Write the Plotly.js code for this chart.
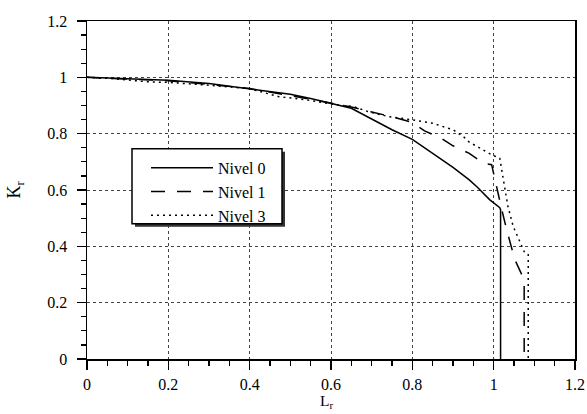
<!DOCTYPE html>
<html>
<head>
<meta charset="utf-8">
<script src="https://cdn.plot.ly/plotly-3.0.1.min.js"></script>
<style>html,body{margin:0;padding:0;background:#fff;}#chart{width:587px;height:414px;}</style>
</head>
<body>
<div id="chart"></div>
<script>
// Series names
const seriesNames = ["Nivel 0", "Nivel 1", "Nivel 3"];

// Nivel 0 (solid)
const lr0 = [0, 0.05, 0.1, 0.15, 0.2, 0.3, 0.4, 0.5, 0.55, 0.6, 0.65, 0.7, 0.75, 0.8, 0.85, 0.876, 0.9, 0.94, 0.96, 0.99, 1.015, 1.017, 1.017];
const kr0 = [1, 0.998, 0.995, 0.992, 0.99, 0.978, 0.96, 0.94, 0.925, 0.908, 0.89, 0.852, 0.814, 0.78, 0.73, 0.707, 0.68, 0.636, 0.61, 0.566, 0.537, 0.53, 0];

// Nivel 1 (dashed)
const lr1 = [0, 0.1, 0.2, 0.3, 0.4, 0.5, 0.6, 0.65, 0.7, 0.75, 0.8, 0.83, 0.87, 0.9, 0.94, 0.975, 0.995, 1.007, 1.02, 1.032, 1.044, 1.052, 1.069, 1.075, 1.075];
const kr1 = [1, 0.995, 0.988, 0.975, 0.96, 0.935, 0.91, 0.895, 0.877, 0.86, 0.84, 0.81, 0.785, 0.757, 0.73, 0.695, 0.69, 0.61, 0.53, 0.459, 0.40, 0.353, 0.30, 0.27, 0];

// Nivel 3 (dotted)
const lr3 = [0, 0.05, 0.15, 0.2, 0.3, 0.4, 0.47, 0.55, 0.6, 0.655, 0.69, 0.74, 0.8, 0.85, 0.9, 0.925, 0.94, 0.995, 1.015, 1.023, 1.035, 1.048, 1.065, 1.077, 1.085, 1.085];
const kr3 = [1, 0.997, 0.984, 0.982, 0.972, 0.96, 0.932, 0.918, 0.905, 0.896, 0.879, 0.861, 0.849, 0.837, 0.814, 0.79, 0.77, 0.725, 0.713, 0.648, 0.542, 0.471, 0.413, 0.375, 0.37, 0];

const xTicks = [0, 0.2, 0.4, 0.6, 0.8, 1, 1.2];
const yTicks = [0, 0.2, 0.4, 0.6, 0.8, 1, 1.2];
const xTitle = "L<sub>r</sub>";
const yTitle = "K<sub>r</sub>";

const serif = "'Times New Roman', 'Liberation Serif', serif";

const traces = [
  {x: lr0, y: kr0, name: seriesNames[0], mode: "lines", line: {color: "#000", width: 1.5}},
  {x: lr1, y: kr1, name: seriesNames[1], mode: "lines", line: {color: "#000", width: 1.5, dash: "14px,12px"}},
  {x: lr3, y: kr3, name: seriesNames[2], mode: "lines", line: {color: "#000", width: 1.5, dash: "2px,4px"}}
];

// pixel helpers for decoration placement
const M = {l: 87, r: 12, t: 21, b: 54.5};
const PW = 587 - M.l - M.r, PH = 414 - M.t - M.b;
const px = v => (v - M.l) / PW;
const py = v => (414 - M.b - v) / PH;

const axisCommon = {
  showline: true, mirror: true, linecolor: "#000", linewidth: 1.5,
  ticks: "outside", ticklen: 9, tickwidth: 1.5, tickcolor: "#000",
  showgrid: true, gridcolor: "#444", gridwidth: 1, griddash: "dot",
  zeroline: false, fixedrange: true,
  tickfont: {family: serif, size: 16, color: "#000"},
  minor: {dtick: 0.05, ticks: "outside", ticklen: 5, tickwidth: 1.2, tickcolor: "#000", showgrid: false}
};

const layout = {
  width: 587, height: 414,
  margin: M,
  paper_bgcolor: "#fff", plot_bgcolor: "#fff",
  showlegend: true,
  font: {family: serif, color: "#000", size: 16},
  xaxis: Object.assign({}, axisCommon, {
    range: [0, 1.2], tickvals: xTicks, ticklabelstandoff: 1
  }),
  yaxis: Object.assign({}, axisCommon, {
    range: [0, 1.2], tickvals: yTicks, ticklabelstandoff: 6,
    title: {text: yTitle, font: {family: serif, size: 18, color: "#000"}, standoff: 22}
  }),
  annotations: [
    {text: xTitle, xref: "paper", yref: "paper", x: px(326), y: py(402),
     xanchor: "center", yanchor: "middle", showarrow: false, borderpad: 0,
     font: {family: serif, size: 15.5, color: "#000"}}
  ],
  legend: {
    x: px(146), y: py(151), xanchor: "left", yanchor: "top",
    bgcolor: "rgba(0,0,0,0)", borderwidth: 0,
    font: {family: serif, size: 16, color: "#000"},
    itemwidth: 62, tracegroupgap: 0
  },
  shapes: [
    {type: "rect", xref: "paper", yref: "paper", x0: px(135), x1: px(285), y0: py(152), y1: py(227),
     fillcolor: "#333", line: {width: 0}, layer: "above"},
    {type: "rect", xref: "paper", yref: "paper", x0: px(132), x1: px(282), y0: py(149), y1: py(224),
     fillcolor: "#fff", line: {color: "#000", width: 1.5}, layer: "above"}
  ]
};

Plotly.newPlot("chart", traces, layout, {staticPlot: true, displayModeBar: false});
</script>
</body>
</html>
